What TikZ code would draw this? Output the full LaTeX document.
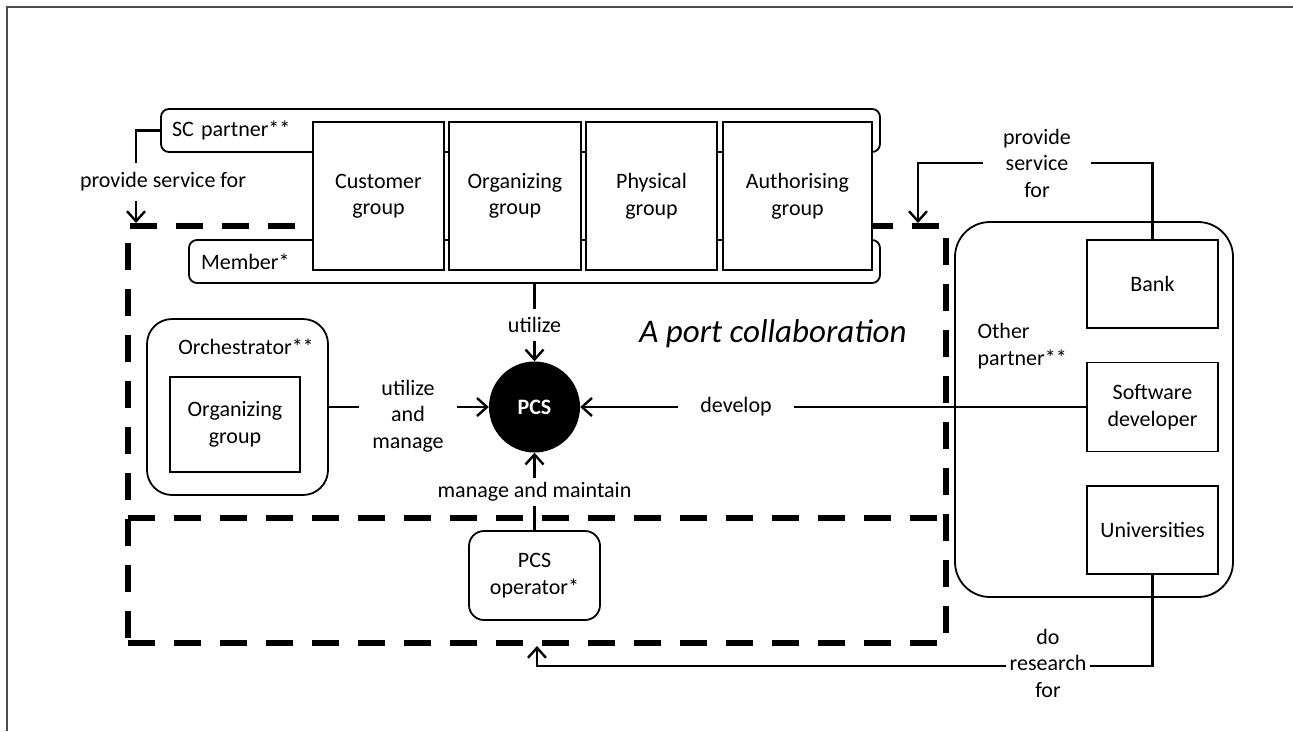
\documentclass[tikz,border=0pt]{standalone}
\usepackage{fontspec}
\setmainfont{Carlito}
\usetikzlibrary{arrows.meta}
\newcommand\diagfont{\fontsize{22}{26.5}\selectfont}
\begin{document}
\begin{tikzpicture}[x=1pt, y=-1pt,
  every node/.style={font=\diagfont},
  box/.style={draw, line width=1.8pt, fill=white, align=center, inner sep=0pt},
  rbox/.style={box, rounded corners=8pt},
  link/.style={line width=2.4pt},
  arr/.style={link, -{Straight Barb[length=10pt, width=18pt]}},
  lbl/.style={fill=white, align=center, inner sep=0pt},
  zone/.style={draw, line width=6pt, dash pattern=on 27pt off 19pt, inner sep=0pt}]
  \useasboundingbox (0,0) rectangle (1293,731);
  \draw[line width=2.5pt, black!70] (7,731) -- (7,7) -- (1293,7);
  % collaboration zone
  \node[zone, minimum width=818pt, minimum height=417pt] (collab) at (537,434.5) {};
  \draw[zone] (128,518) -- (946,518);
  % partner and member bands, groups on top
  \node[rbox, minimum width=719pt, minimum height=43pt, text width=697pt, align=left] (scp) at (520.5,130.5) {SC partner**};
  \node[rbox, minimum width=691pt, minimum height=43pt, text width=667pt, align=left] (mem) at (534.5,261.5) {Member*};
  \node[box, minimum width=131pt, minimum height=148pt] (cust) at (378.5,196) {Customer\\group};
  \node[box, minimum width=132pt, minimum height=148pt] (orgg) at (515,196) {Organizing\\group};
  \node[box, minimum width=131pt, minimum height=148pt] (phys) at (651.5,196) {Physical\\group};
  \node[box, minimum width=149pt, minimum height=148pt] (auth) at (797.5,196) {Authorising\\group};
  % orchestrator
  \node[rbox, rounded corners=25pt, minimum width=181pt, minimum height=176pt] (orch) at (237.5,407) {};
  \node (orchlbl) at (246,347) {Orchestrator**};
  \node[box, minimum width=130pt, minimum height=95pt] (orgin) at (235,424.5) {Organizing\\group};
  % PCS and operator
  \node[circle, fill=black, minimum size=91pt, inner sep=0pt, text=white, font=\fontsize{22}{26}\selectfont\bfseries] (pcs) at (534.5,407) {PCS};
  \node[rbox, rounded corners=15pt, minimum width=131pt, minimum height=89pt] (pcsop) at (534.5,575.5) {PCS\\operator*};
  % other partners
  \node[rbox, rounded corners=35pt, minimum width=278pt, minimum height=375pt] (other) at (1094,409.5) {};
  \node[anchor=west, align=left] (otherlbl) at (974,346) {Other\\partner**};
  \node[box, minimum width=131pt, minimum height=88pt] (bank) at (1152.5,284) {Bank};
  \node[box, minimum width=131pt, minimum height=89pt] (soft) at (1152.5,407) {Software\\developer};
  \node[box, minimum width=131pt, minimum height=88pt] (univ) at (1152.5,530) {Universities};
  \node[font=\fontsize{33}{38}\selectfont\itshape] (title) at (773,334) {A port collaboration};
  % connectors
  \coordinate (psr) at (918,163);
  \coordinate (dr) at (537,666);
  \draw[arr] (scp.west) -| ([xshift=11pt]collab.north west);
  \draw[arr] (bank.north) |- (psr) -- (psr |- collab.north);
  \draw[arr] (mem.south) -- (pcs.north);
  \draw[arr] (orch.east) -- (pcs.west);
  \draw[arr] (soft.west) -- (pcs.east);
  \draw[arr] (pcsop.north) -- (pcs.south);
  \draw[arr] (univ.south) |- (dr) -- (dr |- collab.south);
  % connector labels
  \node[lbl, inner xsep=2pt, inner ysep=10pt] (lps) at (163,182) {provide service for};
  \node[lbl, inner xsep=20pt, inner ysep=2pt] (lpsr) at (1037,163) {provide\\service\\for};
  \node[lbl, inner ysep=8pt] (lut) at (534.5,325) {utilize};
  \node[lbl, inner xsep=13pt] (lum) at (408,416) {utilize\\and\\manage};
  \node[lbl, inner xsep=22pt] (ldev) at (736,407) {develop};
  \node[lbl, inner ysep=4pt] (lmm) at (534.5,492) {manage and maintain};
  \node[lbl, inner xsep=4pt] (ldr) at (1048,663) {do\\research\\for};
\end{tikzpicture}
\end{document}
